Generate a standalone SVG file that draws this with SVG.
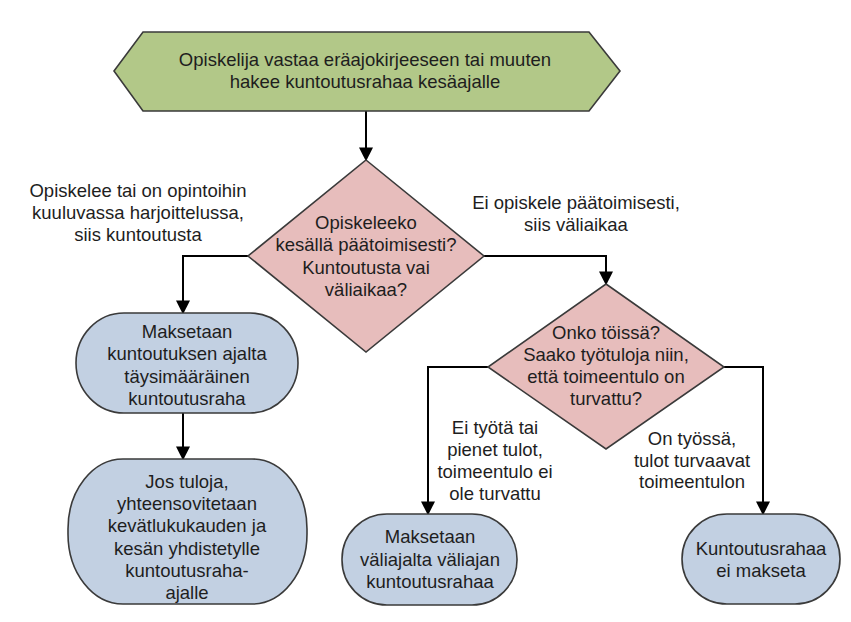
<svg xmlns="http://www.w3.org/2000/svg" width="851" height="622" viewBox="0 0 851 622">
<defs>
<marker id="arr" viewBox="0 0 10 10" refX="9" refY="5" markerWidth="14" markerHeight="14" markerUnits="userSpaceOnUse" orient="auto">
<path d="M0,0 L10,5 L0,10 z" fill="#000"/>
</marker>
</defs>
<style>
text{font-family:"Liberation Sans",Arial,sans-serif;font-size:18.5px;fill:#1e1e1e;text-anchor:middle}
.start{fill:#b2c888;stroke:#3a3a3a;stroke-width:1.6}
.dec{fill:#e7bdbc;stroke:#3a3a3a;stroke-width:1.6}
.term{fill:#c2d0e2;stroke:#3a3a3a;stroke-width:1.6}
.conn{fill:none;stroke:#000;stroke-width:2;marker-end:url(#arr)}
</style>
<rect width="851" height="622" fill="#fff"/>
<g id="connectors">
<path class="conn" d="M366,111 V160"/>
<path class="conn" d="M248,256 H183 V313"/>
<path class="conn" d="M484,256 H606 V284"/>
<path class="conn" d="M183,413 V459"/>
<path class="conn" d="M488,367 H428 V514"/>
<path class="conn" d="M724,367 H763 V514"/>
</g>
<g id="start">
<polygon class="start" points="114,71 143,32 589,32 620,71 589,111 143,111"/>
<text x="365" y="66">Opiskelija vastaa eräajokirjeeseen tai muuten</text>
<text x="365" y="88">hakee kuntoutusrahaa kesäajalle</text>
</g>
<g id="decision1">
<polygon class="dec" points="366,160 484,256 366,352 248,256"/>
<text x="366" y="229">Opiskeleeko</text>
<text x="366" y="251">kesällä päätoimisesti?</text>
<text x="366" y="274">Kuntoutusta vai</text>
<text x="366" y="296">väliaikaa?</text>
</g>
<g id="label-left">
<text x="138" y="197">Opiskelee tai on opintoihin</text>
<text x="138" y="219">kuuluvassa harjoittelussa,</text>
<text x="138" y="241">siis kuntoutusta</text>
</g>
<g id="label-right">
<text x="576" y="209">Ei opiskele päätoimisesti,</text>
<text x="576" y="231">siis väliaikaa</text>
</g>
<g id="box1">
<rect class="term" x="76" y="313" width="222" height="100" rx="48" ry="50"/>
<text x="187" y="338">Maksetaan</text>
<text x="187" y="360">kuntoutuksen ajalta</text>
<text x="187" y="383">täysimääräinen</text>
<text x="187" y="405">kuntoutusraha</text>
</g>
<g id="box2">
<rect class="term" x="68" y="459" width="239" height="145" rx="55" ry="70"/>
<text x="187" y="488">Jos tuloja,</text>
<text x="187" y="510">yhteensovitetaan</text>
<text x="187" y="532">kevätlukukauden ja</text>
<text x="187" y="555">kesän yhdistetylle</text>
<text x="187" y="577">kuntoutusraha-</text>
<text x="187" y="599">ajalle</text>
</g>
<g id="decision2">
<polygon class="dec" points="606,284 724,367 606,449 488,367"/>
<text x="606" y="339">Onko töissä?</text>
<text x="606" y="361">Saako työtuloja niin,</text>
<text x="606" y="383">että toimeentulo on</text>
<text x="606" y="405">turvattu?</text>
</g>
<g id="label-no">
<text x="495" y="434">Ei työtä tai</text>
<text x="495" y="456">pienet tulot,</text>
<text x="495" y="478">toimeentulo ei</text>
<text x="495" y="500">ole turvattu</text>
</g>
<g id="label-yes">
<text x="692" y="445">On työssä,</text>
<text x="692" y="467">tulot turvaavat</text>
<text x="692" y="488">toimeentulon</text>
</g>
<g id="box3">
<rect class="term" x="342" y="514" width="175" height="91" rx="45" ry="45"/>
<text x="430" y="543">Maksetaan</text>
<text x="430" y="566">väliajalta väliajan</text>
<text x="430" y="588">kuntoutusrahaa</text>
</g>
<g id="box4">
<rect class="term" x="682" y="514" width="158" height="90" rx="45" ry="45"/>
<text x="761" y="555">Kuntoutusrahaa</text>
<text x="761" y="577">ei makseta</text>
</g>
</svg>
